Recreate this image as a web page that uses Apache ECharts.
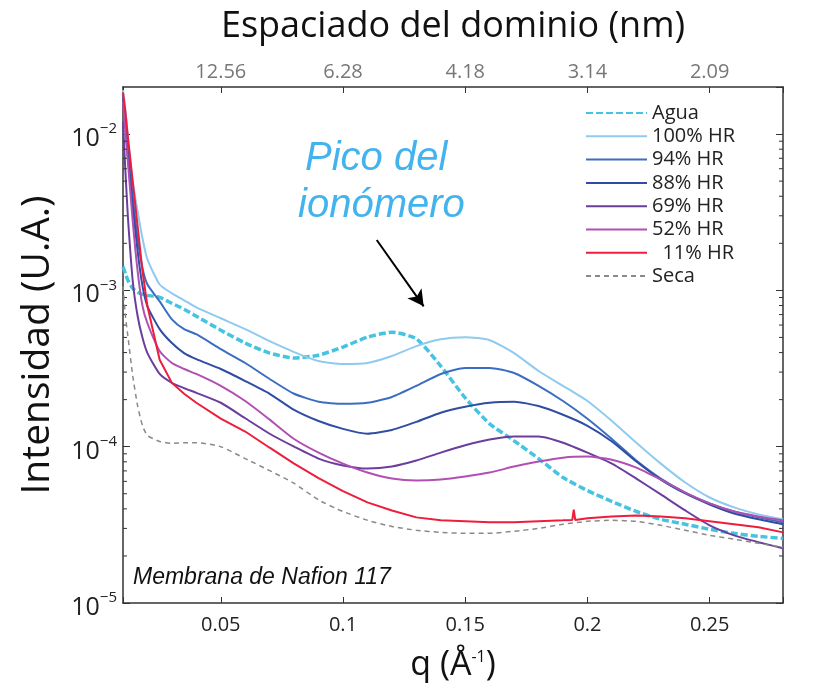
<!DOCTYPE html>
<html>
<head>
<meta charset="utf-8">
<script src="https://cdn.jsdelivr.net/npm/echarts@6/dist/echarts.min.js"></script>
<style>html,body{margin:0;padding:0;background:#fff}#c{width:813px;height:698px}</style>
</head>
<body>
<div id="c"></div>
<script>
// q (Å^-1)
const qValues = [0.010,0.011,0.012,0.014,0.016,0.018,0.020,0.025,0.030,0.035,0.040,0.050,0.060,0.070,0.080,0.090,0.100,0.110,0.120,0.130,0.140,0.150,0.160,0.170,0.180,0.190,0.200,0.210,0.220,0.230,0.240,0.250,0.260,0.270,0.280];
const agua  = [1.42e-3,1.28e-3,1.16e-3,1.03e-3,9.71e-4,9.43e-4,9.29e-4,9.02e-4,8.26e-4,7.58e-4,6.83e-4,5.56e-4,4.60e-4,3.97e-4,3.69e-4,3.85e-4,4.34e-4,5.02e-4,5.40e-4,4.90e-4,3.28e-4,2.05e-4,1.40e-4,1.09e-4,8.39e-5,6.35e-5,5.24e-5,4.46e-5,3.85e-5,3.43e-5,3.19e-5,2.96e-5,2.79e-5,2.67e-5,2.59e-5];
const hr100 = [1.91e-2,1.42e-2,9.57e-3,4.95e-3,3.19e-3,2.14e-3,1.58e-3,1.09e-3,9.57e-4,8.64e-4,7.79e-4,6.63e-4,5.65e-4,4.73e-4,4.03e-4,3.53e-4,3.38e-4,3.43e-4,3.80e-4,4.40e-4,4.87e-4,5.02e-4,4.80e-4,3.97e-4,3.05e-4,2.45e-4,1.96e-4,1.46e-4,1.06e-4,7.79e-5,5.90e-5,4.73e-5,4.09e-5,3.69e-5,3.43e-5];
const hr94  = [1.72e-2,1.23e-2,8.26e-3,3.97e-3,2.14e-3,1.38e-3,1.09e-3,8.51e-4,6.53e-4,5.65e-4,5.24e-4,4.21e-4,3.43e-4,2.71e-4,2.18e-4,1.94e-4,1.88e-4,1.91e-4,2.08e-4,2.45e-4,2.92e-4,3.19e-4,3.19e-4,2.96e-4,2.45e-4,1.96e-4,1.51e-4,1.12e-4,8.15e-5,6.25e-5,5.09e-5,4.34e-5,3.85e-5,3.53e-5,3.28e-5];
const hr88  = [1.60e-2,1.11e-2,7.14e-3,3.43e-3,1.77e-3,1.06e-3,7.91e-4,5.65e-4,4.60e-4,3.97e-4,3.63e-4,3.14e-4,2.63e-4,2.18e-4,1.72e-4,1.46e-4,1.30e-4,1.21e-4,1.28e-4,1.44e-4,1.65e-4,1.80e-4,1.91e-4,1.94e-4,1.82e-4,1.60e-4,1.36e-4,1.08e-4,8.03e-5,6.16e-5,5.02e-5,4.27e-5,3.74e-5,3.43e-5,3.19e-5];
const hr69  = [1.19e-2,5.73e-3,2.96e-3,1.14e-3,6.83e-4,4.95e-4,3.97e-4,2.92e-4,2.56e-4,2.37e-4,2.21e-4,1.91e-4,1.52e-4,1.21e-4,1.00e-4,8.39e-5,7.58e-5,7.24e-5,7.46e-5,8.15e-5,9.16e-5,1.02e-4,1.11e-4,1.16e-4,1.16e-4,1.06e-4,9.16e-5,7.79e-5,6.25e-5,4.95e-5,3.91e-5,3.14e-5,2.71e-5,2.45e-5,2.24e-5];
const hr52  = [1.60e-2,1.03e-2,6.63e-3,2.75e-3,1.32e-3,7.91e-4,6.16e-4,4.09e-4,3.43e-4,3.14e-4,2.92e-4,2.45e-4,1.96e-4,1.49e-4,1.12e-4,9.16e-5,7.79e-5,6.83e-5,6.25e-5,6.07e-5,6.16e-5,6.44e-5,6.83e-5,7.46e-5,8.03e-5,8.51e-5,8.64e-5,8.26e-5,7.35e-5,6.16e-5,5.09e-5,4.34e-5,3.85e-5,3.58e-5,3.38e-5];
const hr11  = [1.85e-2,1.38e-2,9.57e-3,4.95e-3,2.56e-3,1.32e-3,7.91e-4,3.60e-4,2.56e-4,2.18e-4,1.91e-4,1.51e-4,1.25e-4,9.85e-5,7.79e-5,6.30e-5,5.20e-5,4.40e-5,3.91e-5,3.53e-5,3.38e-5,3.33e-5,3.28e-5,3.28e-5,3.33e-5,3.38e-5,3.48e-5,3.58e-5,3.63e-5,3.58e-5,3.48e-5,3.33e-5,3.19e-5,3.05e-5,2.83e-5];
const spikeQ   = [0.1938,0.1944,0.1950];
const spikeI11 = [3.40e-5,3.95e-5,3.40e-5];
const seca  = [1.06e-3,6.83e-4,5.09e-4,2.83e-4,1.82e-4,1.36e-4,1.18e-4,1.08e-4,1.05e-4,1.06e-4,1.06e-4,1.00e-4,8.39e-5,7.03e-5,5.83e-5,4.56e-5,3.85e-5,3.38e-5,3.09e-5,2.92e-5,2.83e-5,2.79e-5,2.79e-5,2.88e-5,3.00e-5,3.19e-5,3.33e-5,3.38e-5,3.33e-5,3.14e-5,2.92e-5,2.71e-5,2.56e-5,2.41e-5,2.27e-5];

const seriesNames = ['Agua','100% HR','94% HR','88% HR','69% HR','52% HR','  11% HR','Seca'];
const seriesColors = ['#45c3e0','#8fcaf0','#3b6ec0','#2f4da3','#6b3e9e','#b24fb2','#ee1d3c','#8a8a8a'];
const topTickQ = [0.05,0.10,0.15,0.20,0.25];
const topTickLabels = ['12.56','6.28','4.18','3.14','2.09'];
const arrowFrom = [0.1138, 2.1e-3];
const arrowTo = [0.1330, 7.9e-4];
const qMin = 0.01, qMax = 0.28, iMin = 1e-5, iMax = 0.02;

function zip(xs, ys){ return xs.map((x,i)=>[x, ys[i]]); }
const redData = zip(qValues, hr11).concat(zip(spikeQ, spikeI11)).sort((a,b)=>a[0]-b[0]);

// minor log ticks (axis decoration)
const minorVals = [];
for (let e=-5; e<=-2; e++) for (let m=2; m<=9; m++){ const v=m*Math.pow(10,e); if (v<iMax) minorVals.push(v); }

const tickFont = '"Open Sans",sans-serif';
const chart = echarts.init(document.getElementById('c'), null, {renderer:'canvas'});

function logLabel(v){
  const e = Math.round(Math.log10(v));
  if (Math.abs(v/Math.pow(10,e)-1) > 1e-6) return '';
  return '{b|10}{s|\u2212' + Math.abs(e) + '}';
}

const lineSeries = [
  {name:seriesNames[0], data:zip(qValues,agua), lineStyle:{width:3.5,type:[7,3]}},
  {name:seriesNames[1], data:zip(qValues,hr100), lineStyle:{width:2}},
  {name:seriesNames[2], data:zip(qValues,hr94), lineStyle:{width:2}},
  {name:seriesNames[3], data:zip(qValues,hr88), lineStyle:{width:2}},
  {name:seriesNames[4], data:zip(qValues,hr69), lineStyle:{width:2}},
  {name:seriesNames[5], data:zip(qValues,hr52), lineStyle:{width:2}},
  {name:seriesNames[6], data:redData, lineStyle:{width:2}, smooth:false},
  {name:seriesNames[7], data:zip(qValues,seca), lineStyle:{width:1.5,type:[5,4]},
    markLine:{silent:true, symbol:['none','arrow'], symbolSize:[13,16], label:{show:false},
      lineStyle:{color:'#000', type:'solid', width:2},
      data:[[{coord:arrowFrom},{coord:arrowTo}]]}}
].map((s,i)=>Object.assign({type:'line', showSymbol:false, symbol:'none', smooth:0.2, color:seriesColors[i], z:3+i, animation:false}, s,
  {lineStyle:Object.assign({color:seriesColors[i]}, s.lineStyle)}));

const option = {
  animation:false,
  backgroundColor:'#fff',
  grid:{left:123, right:30, top:87, bottom:95, containLabel:false, outerBoundsMode:'none'},
  legend:{
    data:seriesNames, orient:'vertical', left:580, top:98, itemWidth:61, itemHeight:14, itemGap:3.3,
    itemStyle:{opacity:0},
    textStyle:{fontSize:20, lineHeight:20, color:'#222', fontFamily:'"Open Sans",sans-serif'},
    selectedMode:false
  },
  xAxis:[
    {type:'value', position:'bottom', min:qMin, max:qMax, splitNumber:5,
      name:'{a|q (Å}{s|-1}{a|)}', nameLocation:'middle', nameGap:45, nameMoveOverlap:false,
      nameTextStyle:{rich:{a:{fontSize:34, color:'#111', fontFamily:tickFont}, s:{fontSize:16, color:'#111', fontFamily:tickFont, padding:[0,0,16,0]}}},
      axisLine:{show:true, lineStyle:{color:'#333', width:1.5}},
      axisTick:{show:true, inside:true, length:6, lineStyle:{color:'#333'}},
      axisLabel:{margin:12, fontSize:20, color:'#222', fontFamily:tickFont,
        formatter:v=>{const k=Math.round(v/0.05); return (Math.abs(v-k*0.05)<1e-9 && k>=1)? String(+(k*0.05).toFixed(2)) : '';}},
      splitLine:{show:false}},
    {type:'value', position:'top', min:qMin, max:qMax, splitNumber:5,
      name:'Espaciado del dominio (nm)', nameLocation:'middle', nameGap:42, nameMoveOverlap:false,
      nameTextStyle:{fontSize:36, color:'#111', fontFamily:'"Open Sans",sans-serif'},
      axisLine:{show:true, lineStyle:{color:'#333', width:1.5}},
      axisTick:{show:true, inside:true, length:6, lineStyle:{color:'#333'}},
      axisLabel:{margin:5, fontSize:20, color:'#777', fontFamily:tickFont,
        formatter:v=>{const i=topTickQ.findIndex(t=>Math.abs(t-v)<1e-9); return i>=0?topTickLabels[i]:'';}},
      splitLine:{show:false}},
  ],
  yAxis:[
    {type:'log', logBase:10, min:iMin, max:iMax, position:'left',
      name:'Intensidad (U.A.)', nameLocation:'middle', nameGap:66, nameRotate:90, nameMoveOverlap:false,
      nameTextStyle:{fontSize:39, color:'#111', fontFamily:'"Open Sans",sans-serif'},
      axisLine:{show:true, lineStyle:{color:'#333', width:1.5}},
      axisTick:{show:true, inside:true, length:7, lineStyle:{color:'#333'}},
      axisLabel:{margin:6, showMaxLabel:false, formatter:logLabel,
        rich:{b:{fontSize:25, color:'#222', fontFamily:tickFont, padding:[10,0,0,0]}, s:{fontSize:15, color:'#222', fontFamily:tickFont, padding:[0,0,10,0]}}},
      splitLine:{show:false}},
    {type:'log', logBase:10, min:iMin, max:iMax, position:'right',
      axisLine:{show:true, lineStyle:{color:'#333', width:1.5}},
      axisTick:{show:true, inside:true, length:7, lineStyle:{color:'#333'}},
      axisLabel:{show:false}, splitLine:{show:false}}
  ],
  graphic:[
    {type:'text', left:305, top:139, style:{text:'Pico del', font:'italic 40px "Liberation Sans", Arial, sans-serif', fill:'#43b3ee'}},
    {type:'text', left:298, top:186, style:{text:'ionómero', font:'italic 40px "Liberation Sans", Arial, sans-serif', fill:'#43b3ee'}},
    {type:'text', left:133, top:566, style:{text:'Membrana de Nafion 117', font:'italic 23px "Liberation Sans", Arial, sans-serif', fill:'#111'}}
  ],
  series: lineSeries.concat([{
    type:'custom', name:'minorTicks', silent:true, z:10, clip:false,
    data: minorVals.map(v=>[qMin, v]),
    renderItem:(params, api)=>{
      const v = api.value(1);
      const pl = api.coord([qMin, v]);
      const pr = api.coord([qMax, v]);
      return {type:'group', children:[
        {type:'line', shape:{x1:pl[0], y1:pl[1], x2:pl[0]+4, y2:pl[1]}, style:{stroke:'#333', lineWidth:1}},
        {type:'line', shape:{x1:pr[0]-4, y1:pr[1], x2:pr[0], y2:pr[1]}, style:{stroke:'#333', lineWidth:1}}
      ]};
    }
  }])
};
chart.setOption(option);
</script>
</body>
</html>
